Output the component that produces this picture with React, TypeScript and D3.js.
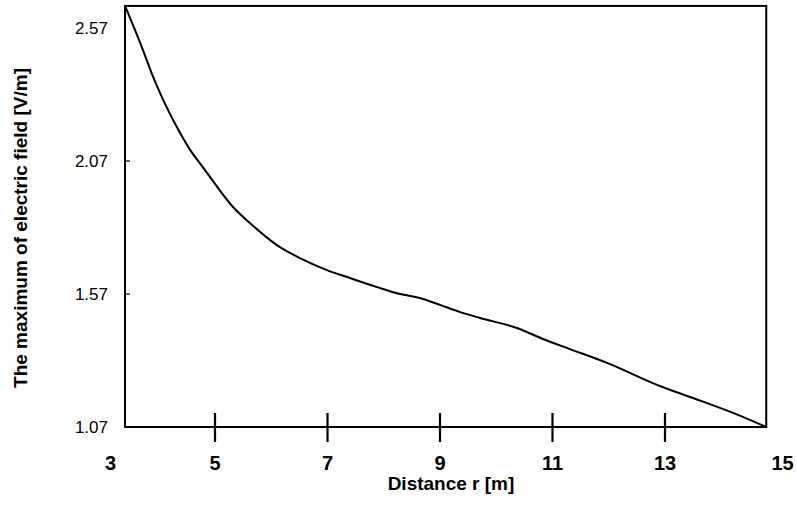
import React from "react";
import * as d3 from "d3";

const distance = [3.4, 3.67, 3.9, 4.08, 4.38, 4.56, 4.73, 4.91, 5.32, 5.62, 6.1, 6.51, 6.99, 7.4, 7.88, 8.29, 8.64, 9.0, 9.36, 9.71, 10.37, 10.83, 11.31, 11.97, 12.91, 13.5, 14.21, 14.8];
const field = [2.653, 2.514, 2.386, 2.299, 2.175, 2.111, 2.062, 2.01, 1.897, 1.837, 1.754, 1.705, 1.66, 1.63, 1.596, 1.57, 1.555, 1.529, 1.502, 1.48, 1.442, 1.401, 1.363, 1.311, 1.224, 1.179, 1.123, 1.07];
const xTicks = [3, 5, 7, 9, 11, 13, 15];
const xTickMarks = [5, 7, 9, 11, 13];
const yTicks = [1.07, 1.57, 2.07, 2.57];
const yTickMarks = [1.57, 2.07];
const xTitle = "Distance r [m]";
const yTitle = "The maximum of electric field [V/m]";

export default function App() {
  const W = 797, H = 510;
  const x = d3.scaleLinear().domain([3, 15]).range([102.5, 777.5]);
  const y = d3.scaleLinear().domain([1.07, 2.07]).range([427, 161]);
  const pts = distance.map((d, i) => [d, field[i]] as [number, number]);
  const line = d3.line<[number, number]>().x(d => x(d[0])).y(d => y(d[1])).curve(d3.curveMonotoneX);
  const x0 = x(d3.min(distance)!), x1 = x(d3.max(distance)!);
  const yTop = y(d3.max(field)!), yBot = y(d3.min(field)!);
  const font = "Liberation Sans, Arial, Helvetica, sans-serif";
  const labelDx = (v: number) => (v === 3 ? 8 : v === 15 ? 5 : 0);
  return (
    <svg width={W} height={H} style={{ position: "absolute", left: 0, top: 0, background: "#fff" }} fontFamily={font}>
      <rect x={x0} y={yTop} width={x1 - x0} height={yBot - yTop} fill="none" stroke="#000" strokeWidth={2} />
      {xTickMarks.map(v => (
        <line key={v} x1={x(v)} x2={x(v)} y1={yBot - 14} y2={yBot + 15} stroke="#000" strokeWidth={2.2} />
      ))}
      {yTickMarks.map(v => (
        <line key={v} x1={x0} x2={x0 + 5} y1={y(v)} y2={y(v)} stroke="#000" strokeWidth={1.2} />
      ))}
      <path d={line(pts)!} fill="none" stroke="#000" strokeWidth={2} />
      {xTicks.map(v => (
        <text key={v} x={x(v) + labelDx(v)} y={470} textAnchor="middle" fontSize={20} fontWeight="bold">{v}</text>
      ))}
      {yTicks.map(v => (
        <text key={v} x={108} y={y(v) + 6} textAnchor="end" fontSize={17}>{v.toFixed(2)}</text>
      ))}
      <text x={451} y={490} textAnchor="middle" fontSize={19} fontWeight="bold">{xTitle}</text>
      <text transform={`translate(27,228) rotate(-90)`} textAnchor="middle" fontSize={19} fontWeight="bold">{yTitle}</text>
    </svg>
  );
}
